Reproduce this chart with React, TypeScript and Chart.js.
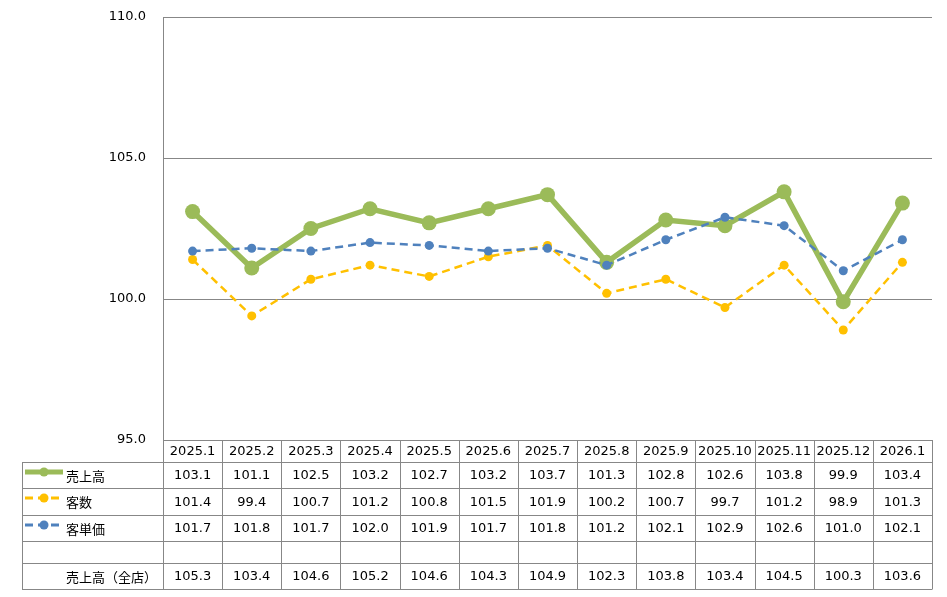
import React, { useEffect, useRef } from "react";
import { Chart, registerables } from "chart.js";

Chart.register(...registerables);

const categories = ["2025.1", "2025.2", "2025.3", "2025.4", "2025.5", "2025.6", "2025.7", "2025.8", "2025.9", "2025.10", "2025.11", "2025.12", "2026.1"];
const sales = [103.1, 101.1, 102.5, 103.2, 102.7, 103.2, 103.7, 101.3, 102.8, 102.6, 103.8, 99.9, 103.4];
const customers = [101.4, 99.4, 100.7, 101.2, 100.8, 101.5, 101.9, 100.2, 100.7, 99.7, 101.2, 98.9, 101.3];
const unitPrice = [101.7, 101.8, 101.7, 102.0, 101.9, 101.7, 101.8, 101.2, 102.1, 102.9, 102.6, 101.0, 102.1];
const salesAllStores = [105.3, 103.4, 104.6, 105.2, 104.6, 104.3, 104.9, 102.3, 103.8, 103.4, 104.5, 100.3, 103.6];
const yTicks = [95, 100, 105, 110];

const GREEN = "#9BBB59";
const YELLOW = "#FFC000";
const BLUE = "#4F81BD";
const GRID = "#878787";
const NUM_FONT = "13px 'DejaVu Sans', Verdana, sans-serif";
const JP_FONT = "13px 'Noto Sans CJK JP', sans-serif";

const tablePlugin = {
  id: "dataTable",
  afterDraw(chart: any) {
    const ctx = chart.ctx as CanvasRenderingContext2D;
    const xs = chart.scales.x;
    const area = chart.chartArea;
    const n = categories.length;
    const colW = (area.right - area.left) / n;
    const tableLeft = 22;
    const b = area.bottom;
    const rowsY = [b, b + 22, b + 48, b + 75, b + 101, b + 123, b + 149];
    ctx.save();
    ctx.strokeStyle = GRID;
    ctx.lineWidth = 1;
    const hl = (x1: number, x2: number, y: number) => {
      ctx.beginPath();
      ctx.moveTo(x1, Math.round(y) + 0.5);
      ctx.lineTo(x2, Math.round(y) + 0.5);
      ctx.stroke();
    };
    const vl = (x: number, y1: number, y2: number) => {
      ctx.beginPath();
      ctx.moveTo(Math.round(x) + 0.5, y1);
      ctx.lineTo(Math.round(x) + 0.5, y2);
      ctx.stroke();
    };
    const bottom = rowsY[rowsY.length - 1];
    hl(area.left, area.right, rowsY[0]);
    for (let r = 1; r < rowsY.length; r++) hl(tableLeft, area.right, rowsY[r]);
    vl(tableLeft, rowsY[1], bottom + 0.5);
    for (let c = 0; c <= n; c++) vl(area.left + c * colW, rowsY[0], bottom + 0.5);

    ctx.fillStyle = "#000";
    ctx.textAlign = "center";
    ctx.textBaseline = "middle";
    ctx.font = NUM_FONT;
    const rowData = [sales, customers, unitPrice, null, salesAllStores];
    for (let i = 0; i < n; i++) {
      const cx = xs.getPixelForValue(i);
      ctx.fillText(categories[i], cx, (rowsY[0] + rowsY[1]) / 2 + 1);
      rowData.forEach((arr, r) => {
        if (!arr) return;
        ctx.fillText(arr[i].toFixed(1), cx, (rowsY[r + 1] + rowsY[r + 2]) / 2 + 1);
      });
    }

    // legend keys and row labels
    const labelX = 66;
    const keys = [
      { color: GREEN, dash: [] as number[], width: 5, r: 4.5, label: "売上高" },
      { color: YELLOW, dash: [8, 5], width: 3, r: 4.5, label: "客数" },
      { color: BLUE, dash: [8, 5], width: 3, r: 4.5, label: "客単価" },
    ];
    keys.forEach((k, r) => {
      const cyRow = (rowsY[r + 1] + rowsY[r + 2]) / 2;
      const ky = rowsY[r + 1] + 10;
      ctx.save();
      ctx.strokeStyle = k.color;
      ctx.lineWidth = k.width;
      ctx.setLineDash(k.dash);
      ctx.lineCap = "butt";
      ctx.beginPath();
      ctx.moveTo(25, ky);
      ctx.lineTo(k.dash.length ? 59 : 63, ky);
      ctx.stroke();
      ctx.setLineDash([]);
      ctx.fillStyle = k.color;
      ctx.beginPath();
      ctx.arc(44, ky, k.r, 0, Math.PI * 2);
      ctx.fill();
      ctx.restore();
      ctx.fillStyle = "#000";
      ctx.textAlign = "left";
      ctx.font = JP_FONT;
      ctx.fillText(k.label, labelX, cyRow + 1);
    });
    ctx.textAlign = "left";
    ctx.font = JP_FONT;
    ctx.fillText("売上高（全店）", labelX, (rowsY[5] + rowsY[6]) / 2 + 1);
    ctx.restore();
  },
};

export default function App() {
  const ref = useRef<HTMLCanvasElement | null>(null);
  useEffect(() => {
    document.body.style.margin = "0";
    if (!ref.current) return;
    const chart = new Chart(ref.current, {
      type: "line",
      data: {
        labels: categories,
        datasets: [
          {
            label: "売上高",
            data: sales,
            borderColor: GREEN,
            backgroundColor: GREEN,
            borderWidth: 5.5,
            pointRadius: 7.5,
            pointBorderWidth: 0,
            pointBackgroundColor: GREEN,
            tension: 0,
            order: 3,
          },
          {
            label: "客数",
            data: customers,
            borderColor: YELLOW,
            backgroundColor: YELLOW,
            borderWidth: 2.5,
            borderDash: [8, 5],
            pointRadius: 4.5,
            pointBorderWidth: 0,
            pointBackgroundColor: YELLOW,
            tension: 0,
            order: 2,
          },
          {
            label: "客単価",
            data: unitPrice,
            borderColor: BLUE,
            backgroundColor: BLUE,
            borderWidth: 2.5,
            borderDash: [8, 5],
            pointRadius: 4.5,
            pointBorderWidth: 0,
            pointBackgroundColor: BLUE,
            tension: 0,
            order: 1,
          },
        ],
      },
      options: {
        responsive: false,
        animation: false,
        layout: { padding: { top: 17, bottom: 157, left: 0, right: 15 } },
        plugins: { legend: { display: false }, tooltip: { enabled: false } },
        scales: {
          x: {
            type: "category",
            display: false,
            offset: true,
          },
          y: {
            min: 95,
            max: 110,
            afterBuildTicks: (scale: any) => {
              scale.ticks = yTicks.map((v) => ({ value: v }));
            },
            afterFit: (scale: any) => {
              scale.width = 163;
              scale.paddingTop = 0;
              scale.paddingBottom = 0;
            },
            border: { display: true, color: GRID, width: 1 },
            grid: { color: GRID, lineWidth: 1, drawTicks: false },
            ticks: {
              padding: 17,
              color: "#000",
              font: { family: "'DejaVu Sans', Verdana, sans-serif", size: 13 },
              callback: (v: any) => Number(v).toFixed(1),
            },
          },
        },
      },
      plugins: [tablePlugin],
    });
    return () => chart.destroy();
  }, []);
  return <canvas ref={ref} width={947} height={597} style={{ display: "block" }} />;
}
